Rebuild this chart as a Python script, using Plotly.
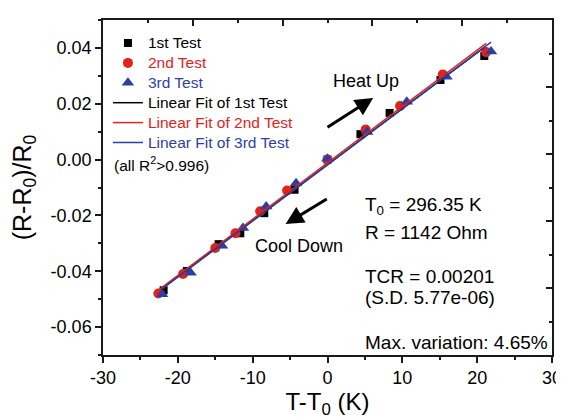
import numpy as np
import plotly.graph_objects as go

# ---- data ----
test1_dt = [-21.9, -18.8, -14.55, -11.65, -8.45, -4.4, 0.0, 4.4, 8.3, 15.1, 20.95]
test1_dr = [-0.0468, -0.0399, -0.0303, -0.0264, -0.0192, -0.0108, 0.0, 0.0091, 0.0167, 0.0285, 0.0371]
test2_dt = [-22.6, -19.3, -15.0, -12.3, -9.0, -5.4, 0.0, 5.1, 9.7, 15.4, 21.2]
test2_dr = [-0.0480, -0.0410, -0.0317, -0.0264, -0.0185, -0.0111, 0.0, 0.0108, 0.0192, 0.0305, 0.0385]
test3_dt = [-22.1, -18.3, -14.1, -11.3, -8.2, -4.2, 0.0, 5.3, 10.6, 15.9, 21.85]
test3_dr = [-0.0482, -0.0405, -0.0309, -0.0245, -0.0168, -0.0085, 0.0003, 0.0099, 0.0207, 0.0297, 0.0387]

series_names = ["1st Test", "2nd Test", "3rd Test"]
fit_names = ["Linear Fit of 1st Test", "Linear Fit of 2nd Test", "Linear Fit of 3rd Test"]
x_ticks = [-30, -20, -10, 0, 10, 20, 30]
x_ticklabels = ["-30", "-20", "-10", "0", "10", "20", "30"]
y_ticks = [-0.06, -0.04, -0.02, 0.00, 0.02, 0.04]
y_ticklabels = ["-0.06", "-0.04", "-0.02", "0.00", "0.02", "0.04"]

BLACK = "#000000"
RED = "#e3221c"
BLUE = "#2f3f9f"
FONT = "Liberation Sans, Arial, sans-serif"
AX = "#1a1a1a"

colors = [BLACK, RED, BLUE]
symbols = ["square", "circle", "triangle-up"]
sizes = [8, 10, 11]
data = [(test1_dt, test1_dr), (test2_dt, test2_dr), (test3_dt, test3_dr)]


def legend_label(text, color):
    return f"<span style='color:{color};font-size:15.5px'>{text}</span>"


fig = go.Figure()
for (dt, dr), name, c, s, sz in zip(data, series_names, colors, symbols, sizes):
    fig.add_trace(go.Scatter(
        x=dt, y=dr, mode="markers", name=legend_label(name, c),
        marker=dict(symbol=s, size=sz, color=c, line=dict(width=0)),
    ))

for (dt, dr), name, c in zip(data, fit_names, colors):
    k, b = np.polyfit(dt, dr, 1)
    xs = np.array([min(dt), max(dt)])
    fig.add_trace(go.Scatter(
        x=xs, y=k * xs + b, mode="lines", name=legend_label(name, c),
        line=dict(color=c, width=1.5),
    ))

# invisible trace to activate the mirror (top/right) tick axes
fig.add_trace(go.Scatter(x=[0], y=[0], xaxis="x2", yaxis="y2", mode="markers",
                         marker=dict(opacity=0), showlegend=False, hoverinfo="skip"))

axis_common = dict(showgrid=False, zeroline=False, showline=True, linecolor=AX,
                   linewidth=1.5, tickcolor=AX, tickwidth=1.5, automargin=False)

# page body has an 8px margin, so the figure is 8px smaller than the window
fig.update_layout(
    width=556, height=411,
    margin=dict(l=95, r=12, t=12, b=64, autoexpand=False),
    paper_bgcolor="white", plot_bgcolor="white",
    font=dict(family=FONT, color="black"),
    showlegend=True,
    legend=dict(x=0.011, y=0.976, xanchor="left", yanchor="top",
                bgcolor="rgba(0,0,0,0)", borderwidth=0,
                font=dict(size=13, family=FONT), tracegroupgap=0),
    xaxis=dict(range=[-30, 30], tickvals=x_ticks, ticktext=x_ticklabels, ticks="outside", ticklen=6,
               tickfont=dict(size=18), mirror=True,
               minor=dict(tickvals=[-25, -15, -5, 5, 15, 25], ticks="outside", ticklen=3,
                          tickcolor=AX, tickwidth=1.5),
               title=dict(text="T-T<sub>0</sub> (K)", font=dict(size=24), standoff=4),
               **axis_common),
    yaxis=dict(range=[-0.07, 0.05], tickvals=y_ticks, ticktext=y_ticklabels, ticks="outside",
               ticklen=6, tickfont=dict(size=18), mirror=True,
               minor=dict(tickvals=[-0.07, -0.05, -0.03, -0.01, 0.01, 0.03, 0.05], ticks="outside",
                          ticklen=3, tickcolor=AX, tickwidth=1.5),
               title=dict(text="(R-R<sub>0</sub>)/R<sub>0</sub>", font=dict(size=25), standoff=16),
               **axis_common),
    xaxis2=dict(overlaying="x", side="top", anchor="y", range=[-30, 30], showgrid=False,
                zeroline=False, showline=False, showticklabels=False, automargin=False,
                tickvals=[-18, -6, 6, 18], ticks="inside", ticklen=6,
                tickcolor=AX, tickwidth=1.5,
                minor=dict(tickvals=[-24, -12, 0, 12, 24], ticks="inside", ticklen=3,
                           tickcolor=AX, tickwidth=1.5)),
    yaxis2=dict(overlaying="y", side="right", anchor="x", range=[-0.07, 0.05], showgrid=False,
                zeroline=False, showline=False, showticklabels=False, automargin=False,
                tickvals=[-0.046, -0.022, 0.002, 0.026], ticks="inside", ticklen=6,
                tickcolor=AX, tickwidth=1.5,
                minor=dict(tickvals=[-0.058, -0.034, -0.010, 0.014, 0.038], ticks="inside",
                           ticklen=3, tickcolor=AX, tickwidth=1.5)),
)

# arrows
fig.add_annotation(x=6.1, y=0.0221, ax=-0.2, ay=0.0112, xref="x", yref="y", axref="x", ayref="y",
                   showarrow=True, arrowhead=2, arrowsize=1.2, arrowwidth=3, arrowcolor="black", text="")
fig.add_annotation(x=-5.6, y=-0.0231, ax=0.1, ay=-0.0138, xref="x", yref="y", axref="x", ayref="y",
                   showarrow=True, arrowhead=2, arrowsize=1.2, arrowwidth=3, arrowcolor="black", text="")

text_annots = [
    ("Heat Up", 0.45, 0.0280, 18),
    ("Cool Down", -10.0, -0.0309, 18),
    ("T<sub>0</sub> = 296.35 K", 4.7, -0.0165, 19),
    ("R = 1142 Ohm", 4.7, -0.0261, 19),
    ("TCR = 0.00201", 4.7, -0.0417, 19),
    ("(S.D. 5.77e-06)", 4.7, -0.0495, 19),
    ("Max. variation: 4.65%", 4.7, -0.0656, 19),
    ("(all R<sup>2</sup>>0.996)", -28.75, -0.0017, 15.5),
]
for txt, x, y, sz in text_annots:
    fig.add_annotation(x=x, y=y, xref="x", yref="y", text=txt, showarrow=False,
                       xanchor="left", yanchor="middle", font=dict(size=sz, family=FONT, color="black"))

fig.write_html("out.html")
